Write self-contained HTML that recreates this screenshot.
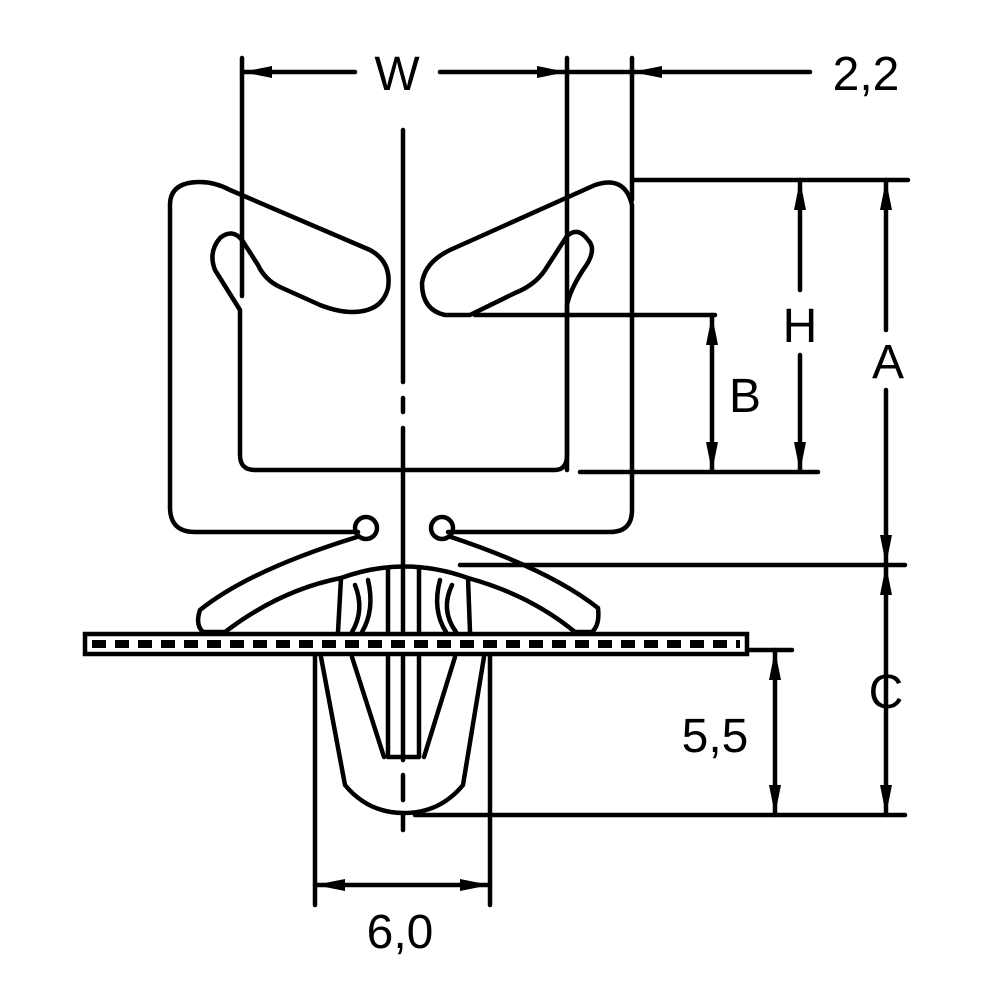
<!DOCTYPE html>
<html><head><style>html,body{margin:0;padding:0;background:#fff}svg{display:block}</style></head>
<body>
<svg width="1000" height="1000" viewBox="0 0 1000 1000" xmlns="http://www.w3.org/2000/svg">
<defs>
<marker id="ar" viewBox="0 0 30 12" refX="30" refY="6" markerWidth="30" markerHeight="12" markerUnits="userSpaceOnUse" orient="auto"><path d="M0,0 L30,6 L0,12 z" fill="#000"/></marker>
<marker id="as" viewBox="0 0 30 12" refX="0" refY="6" markerWidth="30" markerHeight="12" markerUnits="userSpaceOnUse" orient="auto"><path d="M30,0 L0,6 L30,12 z" fill="#000"/></marker>
</defs>
<g fill="none" stroke="#000" stroke-width="4.5" stroke-linecap="round" stroke-linejoin="round">
<line x1="242" y1="58" x2="242" y2="296"/>
<line x1="567" y1="58" x2="567" y2="470"/>
<line x1="632" y1="58" x2="632" y2="200"/>
<line x1="632" y1="180" x2="908" y2="180"/>
<line x1="580" y1="472" x2="818" y2="472"/>
<line x1="475" y1="315" x2="715" y2="315"/>
<line x1="460" y1="565" x2="905" y2="565"/>
<line x1="415" y1="815" x2="905" y2="815"/>
<line x1="490" y1="650" x2="792" y2="650"/>
<line x1="315" y1="650" x2="315" y2="905"/>
<line x1="490" y1="650" x2="490" y2="905"/>
<line x1="403" y1="130" x2="403" y2="382"/>
<line x1="403" y1="398" x2="403" y2="412"/>
<line x1="403" y1="428" x2="403" y2="760"/>
<line x1="403" y1="775" x2="403" y2="800"/>
<line x1="403" y1="815" x2="403" y2="830"/>
<line x1="242" y1="72" x2="355" y2="72" marker-start="url(#as)"/>
<line x1="440" y1="72" x2="567" y2="72" marker-end="url(#ar)"/>
<line x1="567" y1="72" x2="632" y2="72"/>
<line x1="810" y1="72" x2="632" y2="72" marker-end="url(#ar)"/>
<line x1="800" y1="180" x2="800" y2="290" marker-start="url(#as)"/>
<line x1="800" y1="355" x2="800" y2="472" marker-end="url(#ar)"/>
<line x1="886" y1="180" x2="886" y2="330" marker-start="url(#as)"/>
<line x1="886" y1="390" x2="886" y2="565" marker-end="url(#ar)"/>
<line x1="712" y1="315" x2="712" y2="472" marker-start="url(#as)" marker-end="url(#ar)"/>
<line x1="886" y1="565" x2="886" y2="815" marker-start="url(#as)" marker-end="url(#ar)"/>
<line x1="775" y1="650" x2="775" y2="815" marker-start="url(#as)" marker-end="url(#ar)"/>
<line x1="315" y1="885" x2="490" y2="885" marker-start="url(#as)" marker-end="url(#ar)"/>
<path d="M358,532 L195,532 Q170,532 170,507 L170,205 Q170,182 200,182 Q215,182 230,190 L370,250 Q392,262 388,288 Q382,312 352,312 Q338,312 320,305 L280,287 Q265,280 258,265 L242,240 Q232,228 220,238 Q208,252 215,270 L240,310 L240,455 Q240,470 255,470 L555,470 Q567,470 567,455 L567,305 Q570,290 583,270 Q598,250 588,240 Q578,226 567,236 L545,270 Q535,285 515,293 L470,315 L445,315 Q422,310 422,283 Q425,262 450,250 L595,185 Q625,175 632,205 L632,510 Q632,532 610,532 L448,532"/>
<circle cx="366" cy="528" r="11"/>
<circle cx="442" cy="528" r="11"/>
<path d="M357,537 Q250,570 200,610 Q195,625 203,632 L225,632 Q280,590 341,578"/>
<path d="M451,537 Q550,570 598,608 Q600,625 592,632 L575,632 Q530,595 468,578"/>
<path d="M338,632 L341,578 Q404,555 468,578 L470,632"/>
<path d="M352,632 Q365,610 355,585 M362,632 Q375,610 368,580"/>
<path d="M456,632 Q440,610 452,585 M446,632 Q432,610 440,580"/>
<path d="M388,568 L388,757 L419,757 L419,568"/>
<path d="M352,657 L384,757 M455,657 L424,757"/>
<path d="M321,657 L345,785 Q368,813 404,813 Q440,813 463,785 L484,657"/>
</g>
<rect x="85" y="634" width="662" height="20" fill="#fff" stroke="#000" stroke-width="4.5"/>
<line x1="92" y1="644" x2="740" y2="644" stroke="#000" stroke-width="8" stroke-dasharray="14,9"/>
<g font-family="Liberation Sans, sans-serif" font-size="48" fill="#000" text-anchor="middle">
<text x="397" y="90">W</text>
<text x="866" y="90">2,2</text>
<text x="800" y="342">H</text>
<text x="888" y="378">A</text>
<text x="745" y="412">B</text>
<text x="886" y="708">C</text>
<text x="715" y="752">5,5</text>
<text x="400" y="948">6,0</text>
</g>
</svg>
</body></html>
